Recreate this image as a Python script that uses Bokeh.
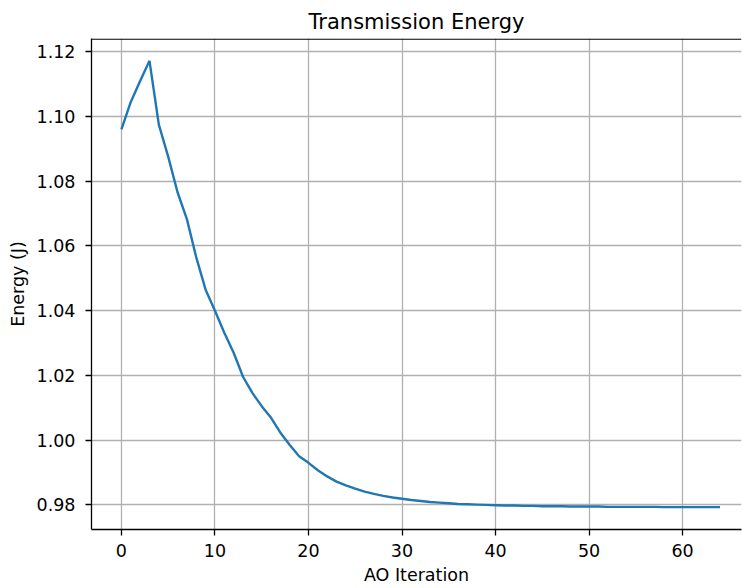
from bokeh.plotting import figure
from bokeh.models import Range1d, FixedTicker, Span, CustomJSTickFormatter
from bokeh.embed import file_html
from bokeh.resources import INLINE

iterations = list(range(65))
energy = [1.0960, 1.1045, 1.1110, 1.1172, 1.0975, 1.0876, 1.0766, 1.0683, 1.0565, 1.0465,
          1.0400, 1.0332, 1.0270, 1.0196, 1.0146, 1.0105, 1.0069, 1.0023, 0.9985, 0.9950,
          0.9930, 0.9907, 0.9888, 0.9872, 0.9860, 0.9850, 0.9841, 0.9834, 0.9828, 0.9823,
          0.9819, 0.9815, 0.9812, 0.9809, 0.9807, 0.9805, 0.9803, 0.9802, 0.9801, 0.9800,
          0.9799, 0.9798, 0.9798, 0.9797, 0.9797, 0.9796, 0.9796, 0.9796, 0.9795, 0.9795,
          0.9795, 0.9795, 0.9794, 0.9794, 0.9794, 0.9794, 0.9794, 0.9794, 0.9793, 0.9793,
          0.9793, 0.9793, 0.9793, 0.9793, 0.9793]
x_ticks = [0, 10, 20, 30, 40, 50, 60]
y_ticks = [0.98, 1.00, 1.02, 1.04, 1.06, 1.08, 1.10, 1.12]

FONT = "DejaVu Sans"
Y_TOP = 1.1241

p = figure(width=742, height=588, output_backend="svg", toolbar_location=None,
           x_range=Range1d(-3.2, 66.3), y_range=Range1d(0.9724, Y_TOP),
           min_border_left=91, min_border_right=1, min_border_top=38, min_border_bottom=59,
           title="Transmission Energy")

p.title.text_font = FONT
p.title.text_font_size = "21px"
p.title.text_font_style = "normal"
p.title.align = "center"
p.title.text_color = "black"

p.outline_line_color = None
p.background_fill_color = "white"
p.border_fill_color = "white"

p.line(iterations, energy, line_color="#1f77b4", line_width=2.4)

p.add_layout(Span(location=Y_TOP - 0.0002, dimension="width", line_color="black", line_width=1.3))

p.xaxis.ticker = FixedTicker(ticks=x_ticks)
p.yaxis.ticker = FixedTicker(ticks=y_ticks)
p.yaxis.formatter = CustomJSTickFormatter(code="return tick.toFixed(2);")

p.xaxis.axis_label = "AO Iteration"
p.yaxis.axis_label = "Energy (J)"

for ax in (p.xaxis, p.yaxis):
    ax.axis_line_color = "black"
    ax.axis_line_width = 1.3
    ax.major_tick_line_color = "black"
    ax.major_tick_line_width = 1.3
    ax.major_tick_out = 6
    ax.major_tick_in = 0
    ax.minor_tick_line_color = None
    ax.major_label_text_font = FONT
    ax.major_label_text_font_size = "17.5px"
    ax.major_label_text_color = "black"
    ax.axis_label_text_font = FONT
    ax.axis_label_text_font_size = "17.5px"
    ax.axis_label_text_font_style = "normal"
    ax.axis_label_text_color = "black"

p.xaxis.major_label_standoff = 8
p.yaxis.major_label_standoff = 10
p.xaxis.axis_label_standoff = 5
p.yaxis.axis_label_standoff = 6

p.xgrid.ticker = FixedTicker(ticks=x_ticks)
p.ygrid.ticker = FixedTicker(ticks=y_ticks)
for g in (p.xgrid, p.ygrid):
    g.grid_line_color = "#b0b0b0"
    g.grid_line_width = 1.3

open("out.html", "w").write(file_html(p, INLINE))
